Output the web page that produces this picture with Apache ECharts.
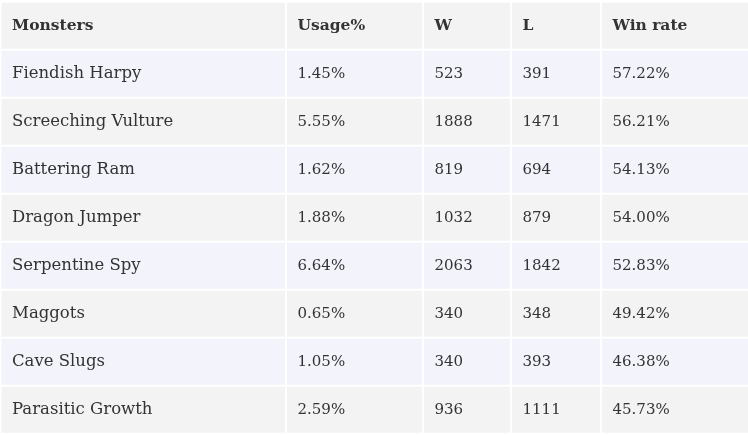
<!DOCTYPE html>
<html>
<head>
<meta charset="utf-8">
<script src="https://cdn.jsdelivr.net/npm/echarts@6/dist/echarts.min.js"></script>
<style>
html,body{margin:0;padding:0;background:#ffffff;}
#chart{width:748px;height:435px;}
</style>
</head>
<body>
<div id="chart"></div>
<script>
// ---- data ----
const headers = ['Monsters', 'Usage%', 'W', 'L', 'Win rate'];
const monsters = ['Fiendish Harpy', 'Screeching Vulture', 'Battering Ram', 'Dragon Jumper',
  'Serpentine Spy', 'Maggots', 'Cave Slugs', 'Parasitic Growth'];
const usage = [1.45, 5.55, 1.62, 1.88, 6.64, 0.65, 1.05, 2.59];
const wins = [523, 1888, 819, 1032, 2063, 340, 340, 936];
const losses = [391, 1471, 694, 879, 1842, 348, 393, 1111];
const winRate = [57.22, 56.21, 54.13, 54.00, 52.83, 49.42, 46.38, 45.73];

// ---- layout (not data) ----
const columnEdges = [0.5, 286, 423, 511, 601, 750];
const rowNames = ['header'].concat(monsters);

const pct = v => v.toFixed(2) + '%';
const cells = [];
headers.forEach((h, c) => cells.push({ value: [c, 0], text: h, kind: 'header' }));
monsters.forEach((m, i) => {
  const r = i + 1;
  const texts = [m, pct(usage[i]), String(wins[i]), String(losses[i]), pct(winRate[i])];
  texts.forEach((t, c) => cells.push({ value: [c, r], text: t, kind: c === 0 ? 'name' : 'num' }));
});

const fonts = {
  header: 'bold 15.5px "DejaVu Serif"',
  name: '16.5px "DejaVu Serif"',
  num: '15px "DejaVu Serif"'
};

const chart = echarts.init(document.getElementById('chart'), null, { renderer: 'canvas' });
chart.setOption({
  backgroundColor: '#ffffff',
  animation: false,
  grid: { left: 0, right: 0, top: 1.7, bottom: 1.3 },
  xAxis: { type: 'value', min: 0, max: 748, show: false },
  yAxis: { type: 'category', data: rowNames, inverse: true, show: false },
  series: [{
    type: 'custom',
    data: cells,
    renderItem: function (params, api) {
      const c = api.value(0);
      const r = api.value(1);
      const item = cells[params.dataIndex];
      const left = api.coord([columnEdges[c], r]);
      const right = api.coord([columnEdges[c + 1], r]);
      const bandH = api.size([0, 1])[1];
      const x0 = left[0] + 1, x1 = right[0] - 1;
      const y0 = left[1] - bandH / 2 + 1, h = bandH - 2;
      const fill = (r === 0 || r % 2 === 0) ? '#f3f3f3' : '#f3f3fc';
      return {
        type: 'group',
        children: [
          { type: 'rect', shape: { x: x0, y: y0, width: x1 - x0, height: h }, style: { fill: fill } },
          { type: 'text', x: x0 + 10.5, y: y0 + h / 2 + 0.5,
            style: { text: item.text, fill: '#333333',
              font: fonts[item.kind],
              textAlign: 'left', textVerticalAlign: 'middle' } }
        ]
      };
    }
  }]
});
</script>
</body>
</html>
